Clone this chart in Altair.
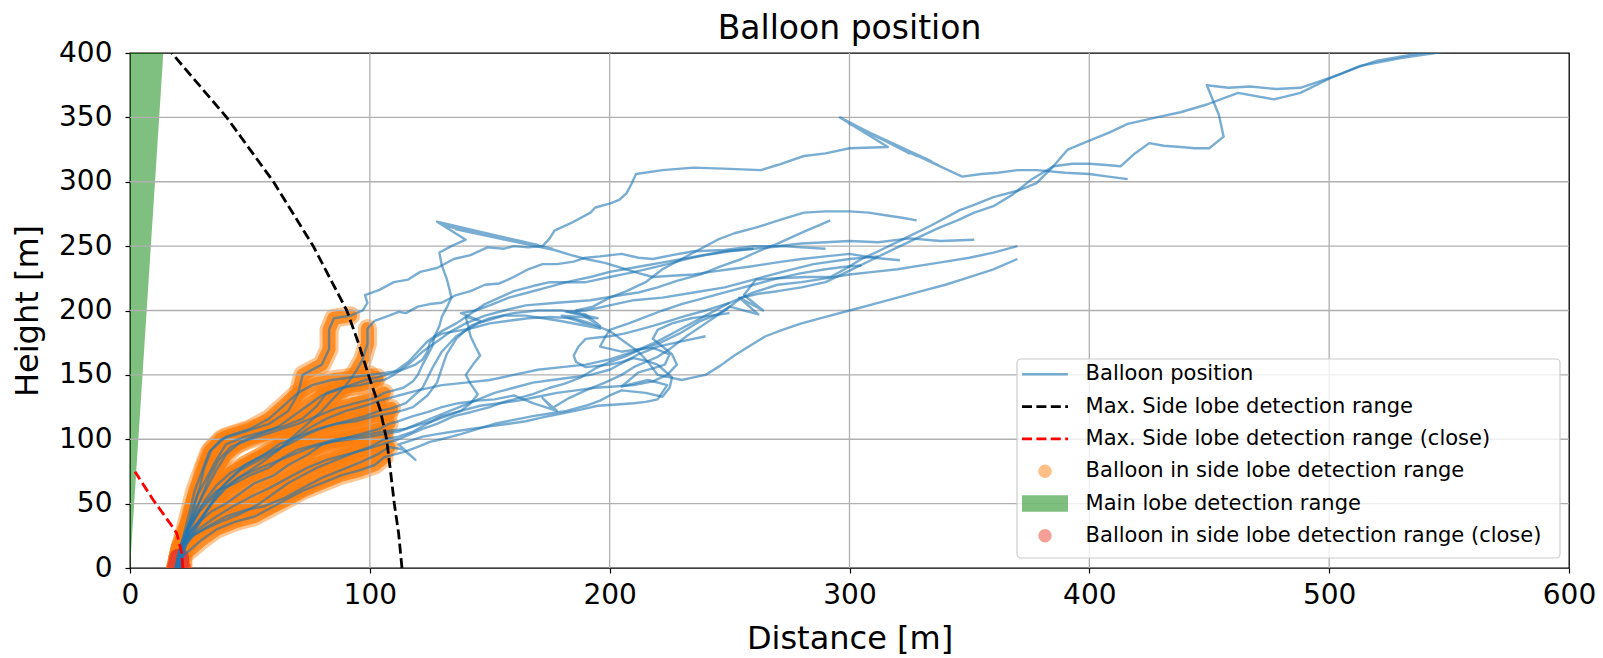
import numpy as np
import pandas as pd
import altair as alt

# ---------------------------------------------------------------------------
# Detection ranges (distance [m], height [m])
# ---------------------------------------------------------------------------
SIDE_RANGE_X = [113.4, 112.0, 110.2, 108.7, 107.0, 104.3, 99.4, 95.2, 90.4, 76.4, 59.8, 40.3, 17.4]
SIDE_RANGE_Y = [0, 27, 50, 74, 100, 123, 150, 175, 200, 250, 300, 350, 400]

CLOSE_RANGE_X = [22.0, 21.6, 19.5, 16.7, 9.7, 2.1]
CLOSE_RANGE_Y = [0, 11.4, 27, 34.7, 52.8, 74.8]

MAIN_LOBE_Y = [0, 400]
MAIN_LOBE_X_LEFT = [0, 0]
MAIN_LOBE_X_RIGHT = [0, 13.9]

X_TICKS = [0, 100, 200, 300, 400, 500, 600]
Y_TICKS = [0, 50, 100, 150, 200, 250, 300, 350, 400]

# ---------------------------------------------------------------------------
# Balloon flights: NEAR = samples inside the side lobe range, FAR = the rest
# ---------------------------------------------------------------------------
FLIGHT_1_NEAR = [(20, 0), (20, 8), (21, 16), (23, 30), (25, 45), (27, 60), (30, 75), (33, 90), (38, 100),
                 (48, 106), (58, 112), (66, 122), (70, 135), (72, 150), (80, 158), (83, 170), (83, 185),
                 (85, 194), (92, 196)]
FLIGHT_1_FAR = [(97, 200), (99, 206), (98, 212), (104, 216), (110, 222), (116, 224), (121, 230), (128, 233),
                (135, 240), (142, 243), (149, 249), (156, 248), (160, 250), (166, 249), (172, 250), (175, 256),
                (177, 262), (184, 268), (192, 276), (194, 280), (200, 283), (204, 286), (207, 291), (209, 298),
                (211, 306), (222, 309), (235, 311), (250, 310), (263, 309), (270, 313), (281, 320), (290, 322),
                (300, 326), (316, 327), (296, 350), (322, 325), (297, 349), (325, 322), (299, 347), (328, 320),
                (300, 345), (331, 318), (302, 343), (334, 316), (305, 341), (337, 313), (308, 338), (340, 310),
                (347, 304), (355, 306), (362, 307), (370, 309), (378, 309), (390, 307), (400, 306), (408, 304),
                (416, 302)]

FLIGHT_2_NEAR = [(21, 0), (21, 8), (22, 16), (25, 28), (30, 40), (35, 52), (40, 62), (47, 72), (55, 82),
                 (62, 92), (68, 102), (74, 112), (80, 122), (85, 132), (90, 142), (94, 152), (97, 162),
                 (99, 174), (99, 186)]
FLIGHT_2_FAR = [(102, 192), (108, 196), (112, 199), (115, 198), (120, 203), (125, 205), (130, 206), (136, 212),
                (142, 215), (148, 220), (154, 221), (160, 226), (166, 232), (172, 236), (178, 236), (185, 238),
                (190, 241), (196, 242), (205, 244), (212, 241), (218, 240), (226, 243), (235, 246), (248, 247),
                (260, 250), (270, 250), (280, 252), (290, 253), (300, 254), (312, 253), (325, 256), (338, 254),
                (352, 255)]

FLIGHT_3_NEAR = [(19, 0), (20, 8), (21, 16), (24, 24), (30, 32), (36, 40), (43, 48), (50, 55), (58, 62),
                 (66, 70), (74, 78), (82, 84), (90, 88), (98, 92), (105, 96)]
FLIGHT_3_FAR = [(112, 100), (117, 104), (122, 108), (128, 112), (135, 118), (142, 121), (150, 125), (156, 129),
                (162, 132), (168, 135), (175, 140), (181, 143), (188, 148), (194, 155), (200, 160), (206, 164),
                (212, 169), (220, 174), (229, 182), (238, 192), (245, 197), (250, 203), (262, 197), (254, 210),
                (264, 200), (256, 212), (261, 224), (270, 225), (282, 226), (292, 226), (298, 232), (305, 240),
                (312, 246), (322, 255), (334, 266), (346, 278), (352, 282), (360, 288), (370, 293), (378, 299),
                (385, 312), (391, 325), (400, 332), (408, 338), (416, 345), (428, 350), (438, 354), (449, 360),
                (462, 369), (477, 364), (488, 369), (500, 380), (513, 390), (530, 396), (548, 401)]

FLIGHT_4_NEAR = [(20, 0), (20, 8), (21, 16), (24, 26), (29, 36), (34, 44), (40, 50), (46, 58), (52, 66),
                 (60, 72), (66, 80), (74, 88), (80, 96), (88, 100), (96, 104), (104, 108), (108, 112)]
FLIGHT_4_FAR = [(112, 114), (118, 118), (124, 121), (130, 125), (137, 128), (145, 130), (152, 131), (160, 134),
                (168, 128), (178, 122), (172, 132), (176, 124), (183, 132), (190, 138), (198, 144), (205, 150),
                (210, 156), (215, 160), (220, 164), (225, 170), (232, 180), (240, 190), (248, 200), (255, 210),
                (262, 213), (270, 215), (280, 218), (290, 222), (300, 231), (310, 240), (320, 249), (329, 257),
                (337, 264), (345, 270), (352, 276), (360, 281), (368, 290), (376, 302), (385, 312), (393, 314),
                (400, 314), (407, 313), (413, 312), (419, 322), (425, 330), (431, 328), (438, 327), (444, 326),
                (450, 326), (456, 335), (454, 352), (449, 375), (458, 373), (467, 374), (478, 372), (488, 373),
                (496, 378), (505, 384), (512, 389), (520, 394), (532, 398), (545, 402)]

FLIGHT_5_NEAR = [(21, 0), (21, 8), (22, 16), (24, 28), (27, 42), (30, 56), (33, 70), (37, 84), (42, 94),
                 (50, 100), (60, 106), (70, 112), (78, 118), (86, 124), (94, 128), (102, 132), (106, 136)]
FLIGHT_5_FAR = [(110, 138), (114, 140), (118, 145), (120, 150), (122, 158), (124, 165), (126, 172), (127, 180),
                (129, 188), (130, 195), (132, 202), (134, 210), (133, 218), (132, 225), (130, 235), (129, 245),
                (134, 250), (140, 255), (128, 269), (160, 255), (129, 268), (165, 253), (130, 267), (170, 251),
                (131, 266), (173, 249), (133, 265), (176, 248), (136, 263), (177, 247), (184, 243), (190, 240),
                (198, 237), (205, 233), (212, 229), (218, 226), (226, 227), (235, 228), (242, 230), (250, 232),
                (258, 234), (265, 236), (272, 238), (280, 240), (290, 242), (300, 244), (310, 241), (321, 239)]

FLIGHT_6_NEAR = [(20, 0), (21, 8), (22, 16), (25, 26), (29, 36), (33, 48), (37, 60), (42, 70), (48, 80),
                 (56, 88), (62, 96), (70, 102), (78, 108), (86, 112), (94, 114), (102, 118), (108, 120)]
FLIGHT_6_FAR = [(113, 122), (118, 125), (124, 134), (128, 144), (130, 155), (132, 166), (136, 178), (142, 188),
                (150, 194), (160, 198), (170, 200), (180, 200), (190, 197), (196, 188), (186, 200), (193, 203),
                (200, 210), (207, 215), (215, 222), (222, 232), (230, 240), (238, 248), (245, 255), (252, 260),
                (262, 265), (272, 271), (281, 276), (290, 277), (300, 277), (308, 276), (315, 274), (322, 272),
                (328, 270)]

FLIGHT_7_NEAR = [(19, 0), (20, 8), (22, 16), (27, 26), (33, 33), (40, 40), (48, 45), (56, 48), (64, 54),
                 (72, 62), (80, 70), (88, 76), (96, 82), (103, 88), (108, 94)]
FLIGHT_7_FAR = [(114, 92), (119, 84), (112, 96), (117, 99), (122, 102), (128, 104), (135, 106), (142, 108),
                (150, 110), (158, 112), (165, 114), (172, 117), (180, 120), (188, 123), (195, 126), (203, 127),
                (210, 128), (215, 129), (220, 131), (224, 142), (216, 146), (205, 141), (212, 152), (218, 155),
                (223, 158), (225, 166), (218, 171), (212, 170), (205, 168), (196, 172), (198, 179), (200, 185),
                (208, 190), (215, 195), (222, 200), (230, 205), (240, 210), (250, 215), (260, 220), (270, 225),
                (280, 229), (290, 232), (298, 234), (305, 235)]

FLIGHT_8_NEAR = [(20, 0), (20, 8), (21, 16), (24, 30), (29, 44), (35, 56), (40, 66), (46, 76), (54, 84),
                 (62, 92), (68, 100), (74, 108), (82, 116), (90, 122), (98, 126), (104, 130)]
FLIGHT_8_FAR = [(108, 132), (112, 134), (120, 138), (130, 142), (140, 144), (150, 146), (160, 150), (170, 154),
                (180, 156), (190, 158), (200, 162), (210, 168), (220, 176), (230, 186), (240, 196), (250, 206),
                (260, 214), (270, 220), (280, 222), (290, 225), (300, 228), (310, 230), (320, 232), (330, 235),
                (340, 238), (350, 241), (360, 245), (370, 250)]

FLIGHT_9_NEAR = [(21, 0), (21, 8), (22, 16), (24, 30), (26, 46), (29, 62), (31, 78), (34, 92), (40, 102),
                 (50, 108), (58, 116), (64, 126), (70, 136), (76, 142), (84, 146), (92, 148), (100, 150)]
FLIGHT_9_FAR = [(104, 151), (108, 152), (112, 153), (115, 155), (119, 158), (122, 162), (124, 168), (125, 175),
                (127, 179), (130, 182), (136, 184), (142, 186), (150, 190), (158, 192), (166, 194), (175, 195),
                (185, 194), (192, 190), (200, 184), (206, 176), (212, 168), (216, 160), (220, 150), (225, 148),
                (230, 146), (235, 148), (240, 150), (246, 157), (252, 165), (258, 172), (265, 180), (272, 185),
                (280, 190), (290, 195), (300, 200), (310, 205), (320, 210), (330, 215), (340, 220), (350, 226),
                (360, 232), (370, 240)]

FLIGHT_10_NEAR = [(19, 0), (21, 8), (25, 14), (30, 22), (36, 30), (44, 36), (52, 40), (58, 46), (64, 52),
                  (72, 60), (80, 66), (88, 72), (96, 76), (102, 80), (106, 86)]
FLIGHT_10_FAR = [(110, 88), (114, 90), (120, 94), (125, 98), (132, 101), (138, 104), (145, 108), (152, 112),
                 (160, 115), (168, 118), (175, 120), (182, 122), (190, 126), (196, 130), (200, 134), (205, 138),
                 (210, 137), (215, 136), (222, 133), (225, 140), (226, 148), (223, 153), (220, 158), (215, 161),
                 (210, 163), (205, 160), (200, 158), (195, 157), (190, 156), (186, 160), (185, 165), (187, 172),
                 (190, 178), (195, 179), (200, 180), (206, 182), (212, 185), (218, 188), (225, 192), (232, 196),
                 (240, 200), (245, 203), (250, 206)]

FLIGHT_11_NEAR = [(22, 0), (22, 8), (23, 16), (24, 28), (26, 42), (28, 56), (32, 70), (36, 84), (40, 96),
                  (48, 102), (56, 106), (64, 110), (72, 116), (78, 126), (82, 136), (88, 140), (96, 142),
                  (102, 145)]
FLIGHT_11_FAR = [(106, 146), (110, 150), (116, 158), (122, 168), (128, 176), (134, 184), (140, 190), (148, 196),
                 (156, 200), (165, 204), (178, 206), (192, 208), (205, 212), (212, 214), (220, 218), (228, 223),
                 (238, 228), (246, 234), (255, 240), (262, 246), (270, 252), (276, 257), (282, 262), (287, 266),
                 (292, 270)]

FLIGHT_12_NEAR = [(20, 0), (21, 8), (22, 16), (26, 34), (30, 48), (36, 60), (44, 66), (50, 72), (58, 78),
                  (64, 86), (70, 92), (78, 96), (86, 100), (94, 102), (100, 104), (106, 106)]
FLIGHT_12_FAR = [(110, 107), (115, 108), (120, 111), (126, 114), (132, 118), (138, 122), (142, 128), (145, 135),
                 (142, 143), (140, 150), (143, 158), (146, 165), (144, 172), (142, 180), (141, 188), (140, 195),
                 (144, 200), (148, 205), (154, 210), (160, 215), (168, 219), (175, 222), (182, 222), (190, 222),
                 (195, 224), (200, 226), (208, 229), (215, 232), (224, 236), (232, 240), (240, 243), (250, 246),
                 (260, 248), (272, 250), (280, 249), (290, 248)]

FLIGHT_13_NEAR = [(20, 0), (20, 8), (21, 16), (23, 28), (27, 40), (31, 52), (36, 64), (42, 74), (50, 82),
                  (58, 90), (66, 96), (74, 104), (82, 110), (90, 114), (98, 118), (104, 122), (109, 124)]
FLIGHT_13_FAR = [(115, 128), (122, 140), (126, 155), (130, 168), (136, 180), (145, 190), (156, 196), (165, 196),
                 (179, 192), (196, 186), (180, 196), (195, 194), (182, 199), (190, 200), (200, 204), (210, 208),
                 (222, 210), (235, 214), (248, 218), (260, 224), (272, 230), (285, 236), (300, 240), (312, 242)]

FLIGHT_14_NEAR = [(19, 0), (20, 8), (21, 16), (25, 24), (31, 30), (38, 36), (46, 42), (54, 50), (60, 58),
                  (66, 66), (72, 72), (78, 78), (86, 84), (94, 90), (100, 94), (106, 100)]
FLIGHT_14_FAR = [(112, 102), (118, 106), (124, 112), (130, 118), (138, 122), (146, 126), (154, 128), (162, 130),
                 (170, 133), (178, 136), (186, 138), (194, 140), (202, 141), (210, 142), (218, 145), (224, 150),
                 (228, 158), (226, 166), (222, 172), (218, 178), (220, 185), (226, 190), (234, 194), (242, 196),
                 (250, 198)]

FLIGHT_15_NEAR = [(22, 0), (22, 8), (23, 16), (26, 26), (30, 38), (34, 50), (39, 62), (45, 70), (52, 76),
                  (60, 82), (68, 88), (76, 94), (84, 98), (92, 100), (100, 102), (106, 104)]
FLIGHT_15_FAR = [(112, 106), (120, 112), (128, 118), (136, 124), (144, 130), (152, 136), (160, 140), (168, 144),
                 (176, 146), (184, 148), (192, 150), (200, 154), (206, 160), (212, 166), (220, 172), (230, 176),
                 (240, 180)]

FLIGHT_16_NEAR = [(21, 0), (21, 8), (22, 16), (24, 32), (28, 48), (32, 62), (36, 76), (40, 88), (46, 98),
                  (54, 104), (62, 110), (68, 118), (74, 126), (80, 134), (86, 138), (92, 142), (98, 146),
                  (103, 148)]
FLIGHT_16_FAR = [(110, 152), (116, 160), (120, 168), (124, 176), (130, 184), (136, 190), (140, 195), (146, 192),
                 (138, 198), (144, 200), (150, 204), (158, 210), (166, 214), (174, 218), (182, 222), (192, 226),
                 (200, 230), (212, 234), (224, 238), (236, 242), (248, 246), (260, 248)]

FLIGHTS = [
    (FLIGHT_1_NEAR, FLIGHT_1_FAR), (FLIGHT_2_NEAR, FLIGHT_2_FAR), (FLIGHT_3_NEAR, FLIGHT_3_FAR),
    (FLIGHT_4_NEAR, FLIGHT_4_FAR), (FLIGHT_5_NEAR, FLIGHT_5_FAR), (FLIGHT_6_NEAR, FLIGHT_6_FAR),
    (FLIGHT_7_NEAR, FLIGHT_7_FAR), (FLIGHT_8_NEAR, FLIGHT_8_FAR), (FLIGHT_9_NEAR, FLIGHT_9_FAR),
    (FLIGHT_10_NEAR, FLIGHT_10_FAR), (FLIGHT_11_NEAR, FLIGHT_11_FAR), (FLIGHT_12_NEAR, FLIGHT_12_FAR),
    (FLIGHT_13_NEAR, FLIGHT_13_FAR), (FLIGHT_14_NEAR, FLIGHT_14_FAR), (FLIGHT_15_NEAR, FLIGHT_15_FAR),
    (FLIGHT_16_NEAR, FLIGHT_16_FAR),
]

TITLE = "Balloon position"
LEGEND_LABELS = [
    "Balloon position",
    "Max. Side lobe detection range",
    "Max. Side lobe detection range (close)",
    "Balloon in side lobe detection range",
    "Main lobe detection range",
    "Balloon in side lobe detection range (close)",
]

# ---------------------------------------------------------------------------
# Tables
# ---------------------------------------------------------------------------
rows = []
for fid, (near, far) in enumerate(FLIGHTS):
    for step, (x, y) in enumerate(near + far):
        rows.append({"flight": fid, "step": step, "x": x, "y": y, "near": step < len(near)})
tracks = pd.DataFrame(rows)

near_df = tracks[tracks["near"]].copy()
close_limit = np.interp(near_df["y"], CLOSE_RANGE_Y, CLOSE_RANGE_X)
close_df = near_df[(near_df["x"] <= close_limit) & (near_df["y"] <= max(CLOSE_RANGE_Y))]

side_df = pd.DataFrame({"x": SIDE_RANGE_X, "y": SIDE_RANGE_Y, "i": range(len(SIDE_RANGE_X))})
close_rng_df = pd.DataFrame({"x": CLOSE_RANGE_X, "y": CLOSE_RANGE_Y, "i": range(len(CLOSE_RANGE_X))})
lobe_df = pd.DataFrame({"y": MAIN_LOBE_Y, "x": MAIN_LOBE_X_LEFT, "x2": MAIN_LOBE_X_RIGHT})
xgrid_df = pd.DataFrame({"v": X_TICKS[1:-1]})
ygrid_df = pd.DataFrame({"v": Y_TICKS[1:-1]})

# ---------------------------------------------------------------------------
# Scales and axes (the same definitions are shared by every layer)
# ---------------------------------------------------------------------------
FONT = "DejaVu Sans"
PLOT_W, PLOT_H = 1439, 515
XS = alt.Scale(domain=[0, 600], nice=False, zero=False)
YS = alt.Scale(domain=[0, 400], nice=False, zero=False)
AX_X = alt.Axis(values=X_TICKS, title="Distance [m]", grid=False, domain=False,
                labelFont=FONT, labelFontSize=28, labelColor="#000", labelPadding=8,
                tickColor="#000", tickWidth=1.2, tickSize=5, labelFlush=False, labelOverlap=False,
                titleFont=FONT, titleFontSize=32, titleFontWeight="normal", titleColor="#000",
                titleBaseline="alphabetic", titleY=80)
AX_Y = alt.Axis(values=Y_TICKS, title="Height [m]", grid=False, domain=False,
                labelFont=FONT, labelFontSize=28, labelColor="#000", labelPadding=13,
                tickColor="#000", tickWidth=1.2, tickSize=5, labelFlush=False, labelOverlap=False,
                titleFont=FONT, titleFontSize=32, titleFontWeight="normal", titleColor="#000",
                titleBaseline="alphabetic", titleX=-93, titleY=PLOT_H / 2, titleAngle=270)


def xq(field):
    return alt.X(f"{field}:Q", scale=XS, axis=AX_X)


def yq(field):
    return alt.Y(f"{field}:Q", scale=YS, axis=AX_Y)


# ---------------------------------------------------------------------------
# Layers
# ---------------------------------------------------------------------------
main_lobe = alt.Chart(lobe_df).mark_area(color="green", opacity=0.5, orient="horizontal").encode(
    y=yq("y"), x=xq("x"), x2="x2"
)


def band(df, color, width, opacity):
    return alt.Chart(df).mark_line(
        color=color, strokeWidth=width, opacity=opacity, strokeCap="round", strokeJoin="round", clip=True
    ).encode(x=xq("x"), y=yq("y"), detail="flight:N", order="step:Q")


side_halo = band(near_df, "#ff7f0e", 19, 0.45)
side_core = band(near_df, "#ff7f0e", 13, 0.8)
close_halo = band(close_df, "#e9412d", 17, 0.4)
close_core = band(close_df, "#e9412d", 11, 0.55)

grid_x = alt.Chart(xgrid_df).mark_rule(color="#b0b0b0", strokeWidth=1.3).encode(x=xq("v"))
grid_y = alt.Chart(ygrid_df).mark_rule(color="#b0b0b0", strokeWidth=1.3).encode(y=yq("v"))

balloon = alt.Chart(tracks).mark_line(
    color="#1f77b4", opacity=0.6, strokeWidth=2.4, strokeJoin="round", clip=True
).encode(x=xq("x"), y=yq("y"), detail="flight:N", order="step:Q")

side_range = alt.Chart(side_df).mark_line(
    color="black", strokeWidth=2.8, strokeDash=[10, 4.4], clip=True
).encode(x=xq("x"), y=yq("y"), order="i:Q")

close_range = alt.Chart(close_rng_df).mark_line(
    color="red", strokeWidth=2.8, strokeDash=[10, 4.4], clip=True
).encode(x=xq("x"), y=yq("y"), order="i:Q")

title = alt.Chart(pd.DataFrame({"t": [TITLE]})).mark_text(
    align="center", baseline="alphabetic", font=FONT, fontSize=33, color="#000"
).encode(x=alt.value(PLOT_W / 2), y=alt.value(-14), text="t:N")

# ---------------------------------------------------------------------------
# Legend box (pixel layout inside the plot area)
# ---------------------------------------------------------------------------
one = pd.DataFrame({"k": [0]})
ROW_Y = [321.3 + 32.3 * i for i in range(6)]
HX0, HX1, TX = 892, 938, 955.6

legend_layers = [
    alt.Chart(one).mark_rect(fill="white", fillOpacity=0.8, stroke="#cccccc", strokeWidth=1.2,
                             cornerRadius=4).encode(
        x=alt.value(887), x2=alt.value(1430), y=alt.value(306), y2=alt.value(505)),
    alt.Chart(one).mark_rule(color="#1f77b4", opacity=0.6, strokeWidth=2.4).encode(
        x=alt.value(HX0), x2=alt.value(HX1), y=alt.value(ROW_Y[0])),
    alt.Chart(one).mark_rule(color="black", strokeWidth=2.8, strokeDash=[10, 4.4]).encode(
        x=alt.value(HX0), x2=alt.value(HX1), y=alt.value(ROW_Y[1])),
    alt.Chart(one).mark_rule(color="red", strokeWidth=2.8, strokeDash=[10, 4.4]).encode(
        x=alt.value(HX0), x2=alt.value(HX1), y=alt.value(ROW_Y[2])),
    alt.Chart(one).mark_circle(color="#ff7f0e", opacity=0.5, size=180).encode(
        x=alt.value((HX0 + HX1) / 2), y=alt.value(ROW_Y[3])),
    alt.Chart(one).mark_rect(color="green", opacity=0.5).encode(
        x=alt.value(HX0), x2=alt.value(HX1), y=alt.value(ROW_Y[4] - 8.3), y2=alt.value(ROW_Y[4] + 8.3)),
    alt.Chart(one).mark_circle(color="#e9412d", opacity=0.5, size=180).encode(
        x=alt.value((HX0 + HX1) / 2), y=alt.value(ROW_Y[5])),
]
for label, ry in zip(LEGEND_LABELS, ROW_Y):
    legend_layers.append(
        alt.Chart(pd.DataFrame({"label": [label]})).mark_text(
            align="left", baseline="middle", font=FONT, fontSize=21, color="#000"
        ).encode(x=alt.value(TX), y=alt.value(ry), text="label:N")
    )

chart = alt.layer(
    main_lobe, side_halo, side_core, close_halo, close_core, grid_x, grid_y,
    balloon, side_range, close_range, title, *legend_layers
).properties(
    width=PLOT_W,
    height=PLOT_H,
    padding={"left": 130, "top": 53, "right": 34, "bottom": 90},
    autosize=alt.AutoSizeParams(type="none"),
    background="white",
).configure_view(stroke="#000", strokeWidth=1.3)

chart.save("out.html", embed_options={"renderer": "svg", "actions": False})
